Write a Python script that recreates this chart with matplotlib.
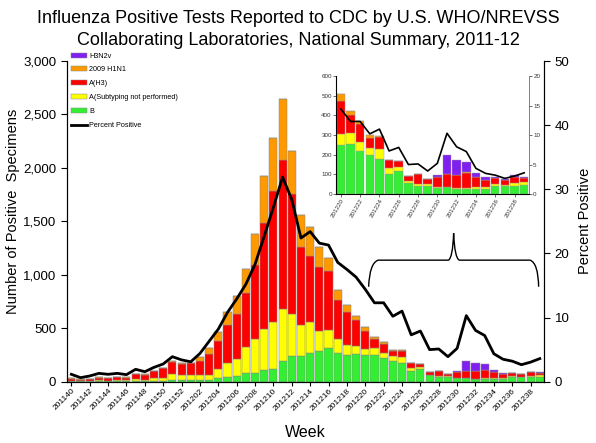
import matplotlib
matplotlib.use("Agg")
import matplotlib.pyplot as plt
import numpy as np
from matplotlib.path import Path
from matplotlib.patches import PathPatch

plt.rcParams['font.family'] = ['Liberation Sans', 'DejaVu Sans']

weeks = ['201140', '201141', '201142', '201143', '201144', '201145', '201146',
         '201147', '201148', '201149', '201150', '201151', '201152',
         '201201', '201202', '201203', '201204', '201205', '201206', '201207',
         '201208', '201209', '201210', '201211', '201212', '201213', '201214',
         '201215', '201216', '201217', '201218', '201219', '201220', '201221',
         '201222', '201223', '201224', '201225', '201226', '201227', '201228',
         '201229', '201230', '201231', '201232', '201233', '201234', '201235',
         '201236', '201237', '201238', '201239']

b_vals = [3, 2, 2, 5, 4, 8, 5, 8, 6, 8, 10, 20, 15, 16, 12, 12, 32, 41, 53, 79,
          84, 110, 116, 197, 241, 241, 272, 291, 313, 266, 250, 256, 249, 253,
          220, 198, 176, 102, 117, 58, 42, 42, 32, 34, 24, 24, 24, 24, 41, 42, 41, 46]
a_unsub = [4, 3, 4, 10, 6, 10, 8, 15, 14, 25, 22, 55, 45, 47, 51, 51, 87, 131, 160, 243,
           313, 384, 446, 481, 393, 290, 282, 185, 171, 131, 94, 79, 56, 59,
           46, 38, 53, 29, 19, 8, 9, 7, 5, 3, 5, 8, 13, 10, 8, 4, 13, 13]
a_h3 = [22, 14, 15, 20, 22, 23, 25, 45, 44, 65, 95, 113, 110, 109, 134, 197, 265, 359, 421, 512,
        697, 993, 1225, 1400, 1126, 728, 624, 593, 556, 369, 312, 243, 170, 90,
        90, 50, 59, 40, 32, 24, 49, 26, 51, 63, 68, 73, 51, 37, 31, 25, 34, 24]
h1n1 = [6, 3, 4, 5, 5, 6, 6, 7, 5, 5, 4, 6, 8, 3, 38, 53, 79, 125, 163, 219,
        290, 438, 494, 565, 402, 303, 265, 190, 116, 89, 64, 37, 33, 20,
        15, 14, 9, 2, 2, 3, 2, 1, 0, 0, 0, 5, 0, 0, 0, 0, 0, 0]
h3n2v = [0] * 42 + [10, 98, 76, 51, 20, 14, 5, 4, 7, 5]
pct_pos = [1.15, 0.63, 0.89, 1.3, 1.15, 1.3, 1.1, 1.93, 1.56, 2.24, 2.76, 3.9, 3.4,
           3.1, 4.4, 6.3, 8.2, 10.8, 12.9, 15.2, 18.3, 22.7, 27.2, 31.9, 28.4,
           22.4, 23.4, 21.6, 21.3, 18.6, 17.5, 16.3, 14.4, 12.3, 12.3, 10.2, 11.0,
           7.3, 7.9, 5.0, 5.1, 3.9, 5.2, 10.3, 8.0, 7.2, 4.35, 3.5, 3.2, 2.65, 3.05, 3.6]

series = [('B', b_vals, '#33EE33'),
          ('A(Subtyping not performed)', a_unsub, '#FFFF00'),
          ('A(H3)', a_h3, '#FF0000'),
          ('2009 H1N1', h1n1, '#FF9900'),
          ('H3N2v', h3n2v, '#8020F0')]

x = np.arange(len(weeks))

fig = plt.figure(figsize=(5.96, 4.43), dpi=100)
ax = fig.add_axes([0.112, 0.1384, 0.8014, 0.7239])

bottom = np.zeros(len(weeks))
handles = {}
for name, vals, col in series:
    vals = np.array(vals, dtype=float)
    bc = ax.bar(x, vals, 0.88, bottom=bottom, color=col, edgecolor='#8a8a8a', linewidth=0.35)
    handles[name] = bc
    bottom += vals

ax.set_xlim(-0.5, len(weeks) - 0.5)
ax.set_ylim(0, 3000)
ax.set_yticks(np.arange(0, 3001, 500))
ax.set_yticklabels(['{:,}'.format(v) for v in range(0, 3001, 500)], fontsize=9.5)
ax.set_xticks(x[::2])
ax.set_xticklabels(weeks[::2], rotation=45, ha='right', rotation_mode='anchor', fontsize=6)
ax.tick_params(axis='x', length=3, pad=1)
ax.tick_params(axis='y', direction='out', length=4)
ax.spines['top'].set_visible(False)
ax.set_ylabel('Number of Positive  Specimens', fontsize=10.5)
ax.yaxis.set_label_coords(-0.098, 0.53)
ax.set_xlabel('Week', fontsize=11.5)
ax.xaxis.set_label_coords(0.5, -0.135)

ax2 = ax.twinx()
line, = ax2.plot(x, pct_pos, color='black', lw=2.0)
ax2.set_ylim(0, 50)
ax2.set_yticks(np.arange(0, 51, 10))
ax2.tick_params(axis='y', labelsize=9.5, direction='out', length=4)
ax2.spines['top'].set_visible(False)
ax2.set_ylabel('Percent Positive', fontsize=10.5, labelpad=6)

leg_h = [handles['H3N2v'], handles['2009 H1N1'], handles['A(H3)'],
         handles['A(Subtyping not performed)'], handles['B'], line]
leg_l = ['H3N2v', '2009 H1N1', 'A(H3)', 'A(Subtyping not performed)', 'B', 'Percent Positive']
ax2.legend(leg_h, leg_l, loc='upper left', bbox_to_anchor=(0.0, 1.04), frameon=False,
           fontsize=5.2, handlelength=2.2, handleheight=0.7, labelspacing=0.95,
           handletextpad=0.3, borderaxespad=0.2)

fig.suptitle('Influenza Positive Tests Reported to CDC by U.S. WHO/NREVSS\n'
             'Collaborating Laboratories, National Summary, 2011-12',
             fontsize=13, y=0.978, linespacing=1.4)

# brace pointing to the inset
pts = [(0.632, 0.296), (0.634, 0.37), (0.652, 0.379),
       (0.799, 0.379), (0.808, 0.385), (0.810, 0.463),
       (0.812, 0.385), (0.822, 0.379),
       (0.970, 0.379), (0.987, 0.37), (0.988, 0.296)]
codes = [Path.MOVETO, Path.CURVE3, Path.CURVE3,
         Path.LINETO, Path.CURVE3, Path.CURVE3,
         Path.CURVE3, Path.CURVE3,
         Path.LINETO, Path.CURVE3, Path.CURVE3]
ax2.add_patch(PathPatch(Path(pts, codes), transform=ax2.transAxes, fill=False,
                        lw=1.0, color='black', clip_on=False))

# inset for 201220-201239
s = 32
axi = fig.add_axes([0.5638, 0.562, 0.3238, 0.2664])
xi = x[s:]
bottom = np.zeros(len(xi))
for name, vals, col in series:
    vals = np.array(vals[s:], dtype=float)
    axi.bar(xi, vals, 0.88, bottom=bottom, color=col, edgecolor='#9a9a9a', linewidth=0.3)
    bottom += vals
axi.set_xlim(s - 0.5, len(weeks) - 0.5)
axi.set_ylim(0, 600)
axi.set_yticks(np.arange(0, 601, 100))
axi.set_xticks(xi[::2])
axi.set_xticklabels(weeks[s::2], rotation=60, ha='right', rotation_mode='anchor', fontsize=4.5)
axi.tick_params(axis='both', labelsize=4.5, length=2, width=0.5, pad=1, colors='#333333')
axi.spines['top'].set_visible(False)
for sp in ['left', 'bottom', 'right']:
    axi.spines[sp].set_linewidth(0.5)
    axi.spines[sp].set_color('#777777')
axi2 = axi.twinx()
axi2.plot(xi, pct_pos[s:], color='black', lw=1.2)
axi2.set_ylim(0, 20)
axi2.set_yticks(np.arange(0, 21, 5))
axi2.tick_params(axis='y', labelsize=4.5, length=2, width=0.5, pad=1, colors='#333333')
axi2.spines['top'].set_visible(False)
axi2.spines['right'].set_linewidth(0.5)
axi2.spines['right'].set_color('#777777')

fig.savefig('out.png', dpi=100)
